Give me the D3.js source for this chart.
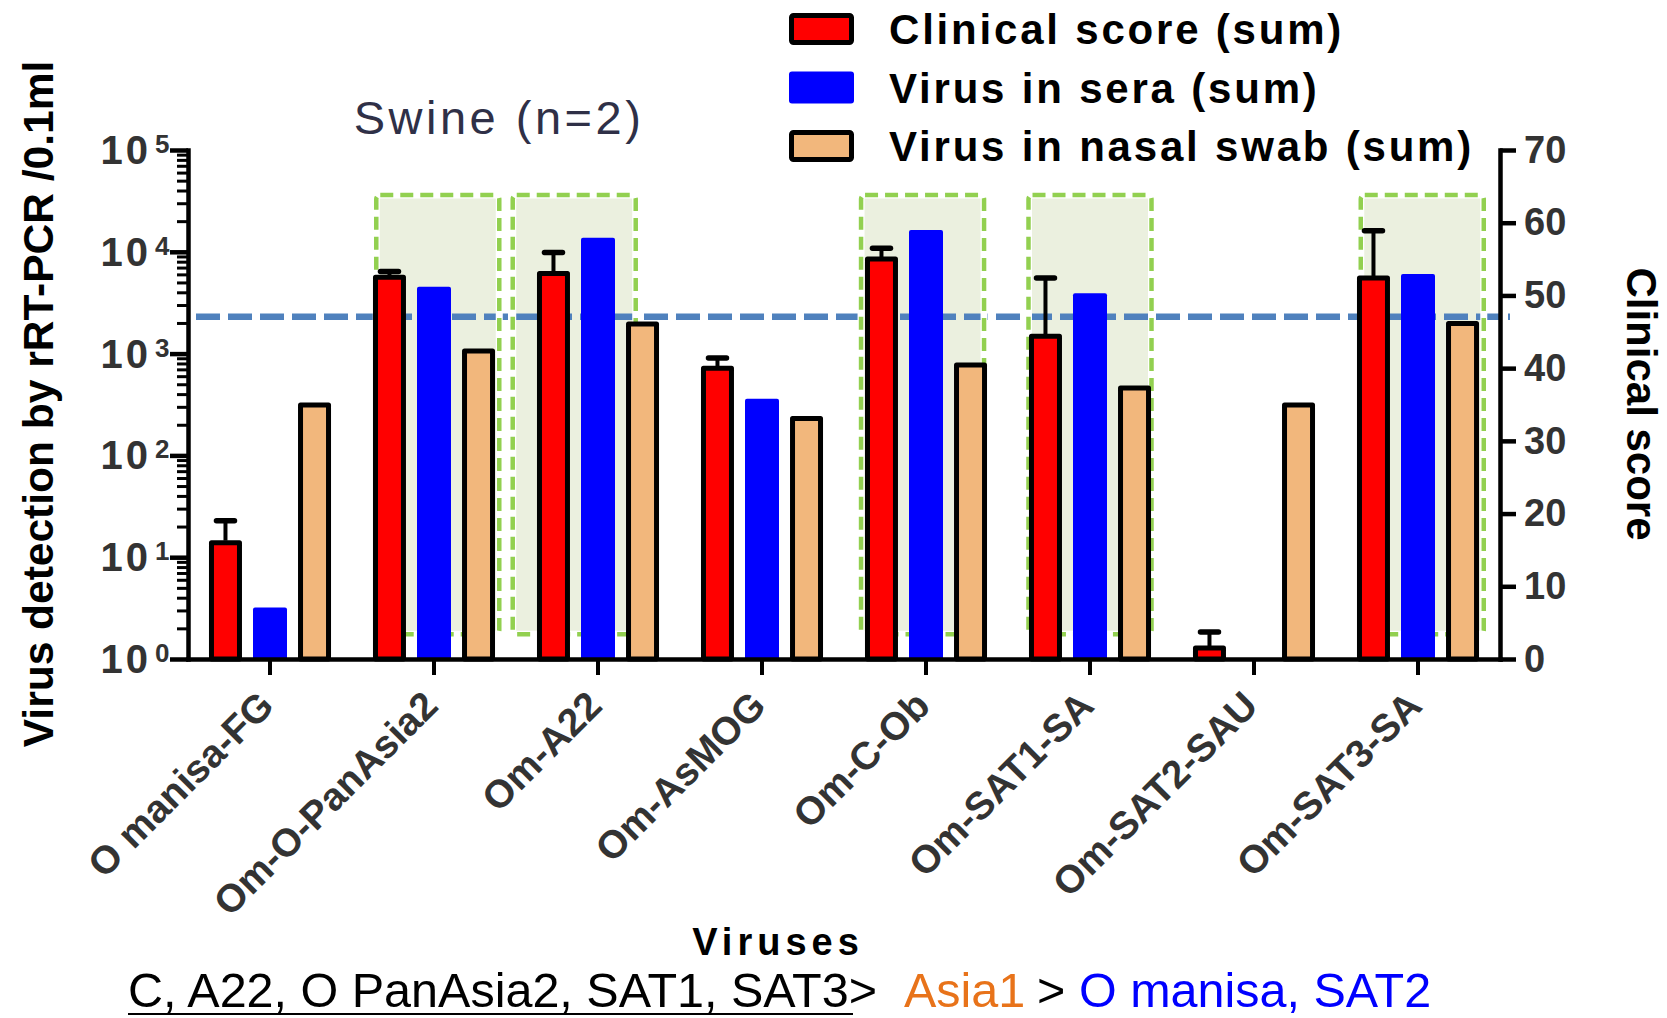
<!DOCTYPE html>
<html><head><meta charset="utf-8">
<script src="https://cdn.jsdelivr.net/npm/d3@7"></script>
<style>
body{margin:0;background:#fff}
svg{display:block}
text{font-family:"Liberation Sans",Arial,Helvetica,sans-serif}
</style>
</head><body>
<svg id="c" width="1667" height="1018"></svg>
<script>
// ---------- data ----------
const categories = ["O manisa-FG","Om-O-PanAsia2","Om-A22","Om-AsMOG","Om-C-Ob","Om-SAT1-SA","Om-SAT2-SAU","Om-SAT3-SA"];
const seriesNames = ["Clinical score (sum)","Virus in sera (sum)","Virus in nasal swab (sum)"];
const clinicalScore = [16, 52.5, 53, 40, 55, 44.4, 1.5, 52.4];
const clinicalErr   = [3, 0.8, 2.9, 1.4, 1.5, 8, 2.2, 6.5];
const virusSera     = [3.2, 4540, 13760, 361, 16370, 3910, null, 6050];
const virusNasal    = [313, 1061, 1954, 230, 773, 459, 313, 1976];
const threshold = 2300;
const leftTickValues = [1, 10, 100, 1000, 10000, 100000];
const rightTickValues = [0, 10, 20, 30, 40, 50, 60, 70];
const highlighted = ["Om-O-PanAsia2","Om-A22","Om-C-Ob","Om-SAT1-SA","Om-SAT3-SA"];
const highlightShift = [0.023, -0.145, -0.021, 0, 0.026]; // fraction of band
const highlightRange = [3.4, 63.8]; // in clinical-score units

// ---------- layout ----------
const plot = {left:188, right:1500, top:150, bottom:659};
const colors = {red:"#ff0000", blue:"#0000ff", orange:"#f2b77c"};
const svg = d3.select("#c");

const x = d3.scaleBand().domain(categories).range([plot.left, plot.right]).padding(0);
const bw = x.bandwidth();
const xs = d3.scalePoint().domain(seriesNames).range([-0.2715*bw, 0.2715*bw]);
const yL = d3.scaleLog().domain([1, 1e5]).range([plot.bottom, plot.top]);
const yR = d3.scaleLinear().domain([0, 70]).range([plot.bottom, plot.top]);
const cx = c => x(c) + bw/2;

// ---------- highlight boxes (fill) ----------
const boxes = highlighted.map((c,i)=>{
  const w = 0.75*bw;
  const mid = cx(c) + highlightShift[i]*bw;
  return {x: mid - w/2, w: w, y: yR(highlightRange[1]), h: yR(highlightRange[0]) - yR(highlightRange[1])};
});
svg.append("g").selectAll("rect").data(boxes).join("rect")
  .attr("x",d=>d.x).attr("y",d=>d.y).attr("width",d=>d.w).attr("height",d=>d.h)
  .attr("rx",4).attr("fill","#ebf0df");

// threshold line
svg.append("line")
  .attr("x1", plot.left+8).attr("x2", plot.right+10)
  .attr("y1", yL(threshold)).attr("y2", yL(threshold))
  .attr("stroke","#4f81bd").attr("stroke-width",6.5).attr("stroke-dasharray","24 8");

// box outlines
const gb = svg.append("g");
gb.selectAll("rect.h").data(boxes).join("rect").attr("class","h")
  .attr("x",d=>d.x).attr("y",d=>d.y).attr("width",d=>d.w).attr("height",d=>d.h)
  .attr("rx",4).attr("fill","none").attr("stroke","#fff").attr("stroke-width",7);
gb.selectAll("rect.g").data(boxes).join("rect").attr("class","g")
  .attr("x",d=>d.x).attr("y",d=>d.y).attr("width",d=>d.w).attr("height",d=>d.h)
  .attr("rx",4).attr("fill","none").attr("stroke","#92d050").attr("stroke-width",4.5)
  .attr("stroke-dasharray","13 7");

// ---------- bars ----------
const gBars = svg.append("g");
categories.forEach((c,i)=>{
  // clinical (right axis)
  const xr = cx(c) + xs(seriesNames[0]);
  const vr = clinicalScore[i];
  gBars.append("rect").attr("x", xr-14).attr("width",28)
    .attr("y", yR(vr)).attr("height", plot.bottom - yR(vr))
    .attr("fill",colors.red).attr("stroke","#000").attr("stroke-width",5).attr("stroke-linejoin","round");
  // error bar
  const e = clinicalErr[i];
  gBars.append("line").attr("x1",xr).attr("x2",xr).attr("y1",yR(vr)-2).attr("y2",yR(vr+e))
    .attr("stroke","#000").attr("stroke-width",4);
  gBars.append("line").attr("x1",xr-9).attr("x2",xr+9).attr("y1",yR(vr+e)).attr("y2",yR(vr+e))
    .attr("stroke","#000").attr("stroke-width",5.5).attr("stroke-linecap","round");
  // sera (left axis)
  const vb = virusSera[i];
  if (vb && vb > 1) {
    const xb = cx(c) + xs(seriesNames[1]);
    gBars.append("path")
      .attr("d", `M${xb-17},${plot.bottom}V${yL(vb)+2}Q${xb-17},${yL(vb)} ${xb-15},${yL(vb)}H${xb+15}Q${xb+17},${yL(vb)} ${xb+17},${yL(vb)+2}V${plot.bottom}Z`)
      .attr("fill",colors.blue);
  }
  // nasal (left axis)
  const vo = virusNasal[i];
  const xo = cx(c) + xs(seriesNames[2]);
  gBars.append("rect").attr("x", xo-14).attr("width",28)
    .attr("y", yL(vo)).attr("height", plot.bottom - yL(vo))
    .attr("fill",colors.orange).attr("stroke","#000").attr("stroke-width",5).attr("stroke-linejoin","round");
});

// ---------- axes ----------
const axStyle = (g, w) => {
  g.select(".domain").attr("stroke","#000").attr("stroke-width",4.5).attr("stroke-linecap","square");
  g.selectAll(".tick line").attr("stroke","#000").attr("stroke-width",w);
};
// x axis
const gx = svg.append("g").attr("transform",`translate(0,${plot.bottom})`)
  .call(d3.axisBottom(x).tickSize(16).tickSizeOuter(0).tickFormat(""));
axStyle(gx, 4);
gx.selectAll(".tick text").remove();

// left axis, minor ticks
const minor = [];
for (let k=0;k<5;k++) for (let m=2;m<=9;m++) minor.push(m*Math.pow(10,k));
const gmin = svg.append("g").attr("transform",`translate(${plot.left},0)`)
  .call(d3.axisLeft(yL).tickValues(minor).tickSize(11).tickSizeOuter(0).tickFormat(""));
gmin.select(".domain").remove();
gmin.selectAll(".tick line").attr("stroke","#000").attr("stroke-width",3);
// left axis, major
const gl = svg.append("g").attr("transform",`translate(${plot.left},0)`)
  .call(d3.axisLeft(yL).tickValues(leftTickValues).tickSize(18).tickSizeOuter(0).tickFormat(""));
axStyle(gl, 4.5);
gl.selectAll(".tick text").remove();
// left labels 10^n
const gll = svg.append("g");
leftTickValues.forEach(v=>{
  const y = yL(v);
  const exp = Math.round(Math.log10(v));
  gll.append("text").attr("x",151).attr("y",y+14).attr("text-anchor","end")
    .attr("font-size",40).attr("font-weight","bold").attr("letter-spacing",3).attr("fill","#333").text("10");
  gll.append("text").attr("x",155).attr("y",y+3)
    .attr("font-size",26).attr("font-weight","bold").attr("fill","#333").text(exp);
});

// right axis
const gr = svg.append("g").attr("transform",`translate(${plot.right},0)`)
  .call(d3.axisRight(yR).tickValues(rightTickValues).tickSize(16).tickSizeOuter(0).tickPadding(8).tickFormat(d3.format("d")));
axStyle(gr, 4.5);
gr.selectAll(".tick text").attr("font-size",38).attr("font-weight","bold").attr("fill","#333")
  .attr("font-family",'"Liberation Sans",Arial,sans-serif');

// x labels
svg.append("g").selectAll("text").data(categories).join("text")
  .attr("transform", d=>`translate(${cx(d)+6},708) rotate(-45)`)
  .attr("text-anchor","end")
  .attr("font-size",39).attr("font-weight","bold").attr("fill","#333")
  .text(d=>d);

// ---------- titles ----------
svg.append("text").attr("transform","translate(53,404) rotate(-90)")
  .attr("text-anchor","middle").attr("font-size",42.5).attr("font-weight","bold").attr("fill","#000")
  .text("Virus detection by rRT-PCR /0.1ml");
svg.append("text").attr("transform","translate(1627,404) rotate(90)")
  .attr("text-anchor","middle").attr("font-size",42).attr("font-weight","bold").attr("fill","#000")
  .text("Clinical score");
svg.append("text").attr("x",499).attr("y",134).attr("text-anchor","middle")
  .attr("font-size",47).attr("letter-spacing",3.5).attr("fill","#2f3047").text("Swine (n=2)");
svg.append("text").attr("x",778).attr("y",955).attr("text-anchor","middle")
  .attr("font-size",38).attr("font-weight","bold").attr("letter-spacing",5).attr("fill","#000").text("Viruses");

// ---------- legend ----------
const legend = svg.append("g");
const legendFill = [colors.red, colors.blue, colors.orange];
seriesNames.forEach((s,i)=>{
  const y0 = 13 + i*58.5;
  if (i === 1) {
    legend.append("rect").attr("x",789).attr("y",y0).attr("width",65).attr("height",32).attr("rx",3)
      .attr("fill",legendFill[i]);
  } else {
    legend.append("rect").attr("x",791.5).attr("y",y0+2.5).attr("width",60).attr("height",27).attr("rx",2)
      .attr("fill",legendFill[i]).attr("stroke","#000").attr("stroke-width",5);
  }
  legend.append("text").attr("x",889).attr("y",y0+31).attr("font-size",42).attr("font-weight","bold")
    .attr("letter-spacing",2.8).attr("fill","#000").text(s);
});

// ---------- bottom note ----------
const note = svg.append("text").attr("y",1007).attr("font-size",48.5).attr("fill","#000");
note.append("tspan").attr("x",128).text("C, A22, O PanAsia2, SAT1, SAT3");
note.append("tspan").text(">");
note.append("tspan").attr("x",904).attr("fill","#e8731a").text("Asia1");
note.append("tspan").attr("x",1037).attr("fill","#000").text(">");
note.append("tspan").attr("x",1079).attr("fill","#0000ff").text("O manisa, SAT2");
svg.append("line").attr("x1",128).attr("x2",853).attr("y1",1014).attr("y2",1014)
  .attr("stroke","#000").attr("stroke-width",2);
</script>
</body></html>
